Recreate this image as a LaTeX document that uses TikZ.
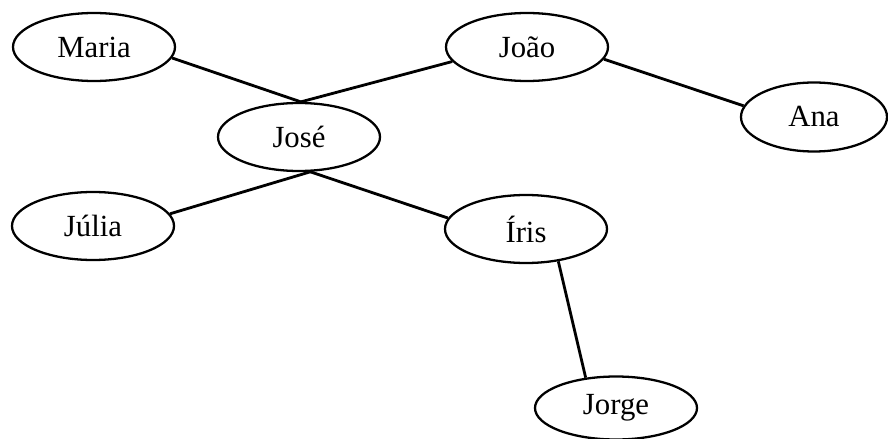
\documentclass[tikz,border=0pt]{standalone}
\usepackage{fontspec}
\setmainfont{Liberation Serif}
\usepackage{tikz}
\usetikzlibrary{shapes.geometric}

\begin{document}
\begin{tikzpicture}[
      person/.style={ellipse, draw=black, line width=1.3pt, minimum width=3.24cm, minimum height=1.36cm, inner sep=0pt, font=\fontsize{17.5}{20}\selectfont},
      link/.style={draw=black, line width=1.6pt},
    ]
    \useasboundingbox (0,0) rectangle (17.76,-8.78);

    % People
    \node[person] (maria) at (1.88,-0.94) {Maria};
    \node[person] (joao)  at (10.54,-0.94) {João};
    \node[person, minimum width=2.92cm, minimum height=1.38cm] (ana) at (16.28,-2.34) {Ana};
    \node[person] (jose)  at (5.98,-2.74) {José};
    \node[person] (julia) at (1.86,-4.52) {Júlia};
    \node[person] (iris)  at (10.52,-4.58) {Íris};
    \node[person, minimum height=1.26cm] (jorge) at (12.32,-8.16) {Jorge};

    % Links
    \draw[link] (maria.-8) -- (jose.87);
    \draw[link] (joao.191) -- (jose.87);
    \draw[link] (joao.-9) -- (ana.171);
    \draw[link] (jose.-72) -- (julia.9);
    \draw[link] (jose.-72) -- (iris.172);
    \draw[link] (iris.-45) -- (jorge.135);
  \end{tikzpicture}
\end{document}
